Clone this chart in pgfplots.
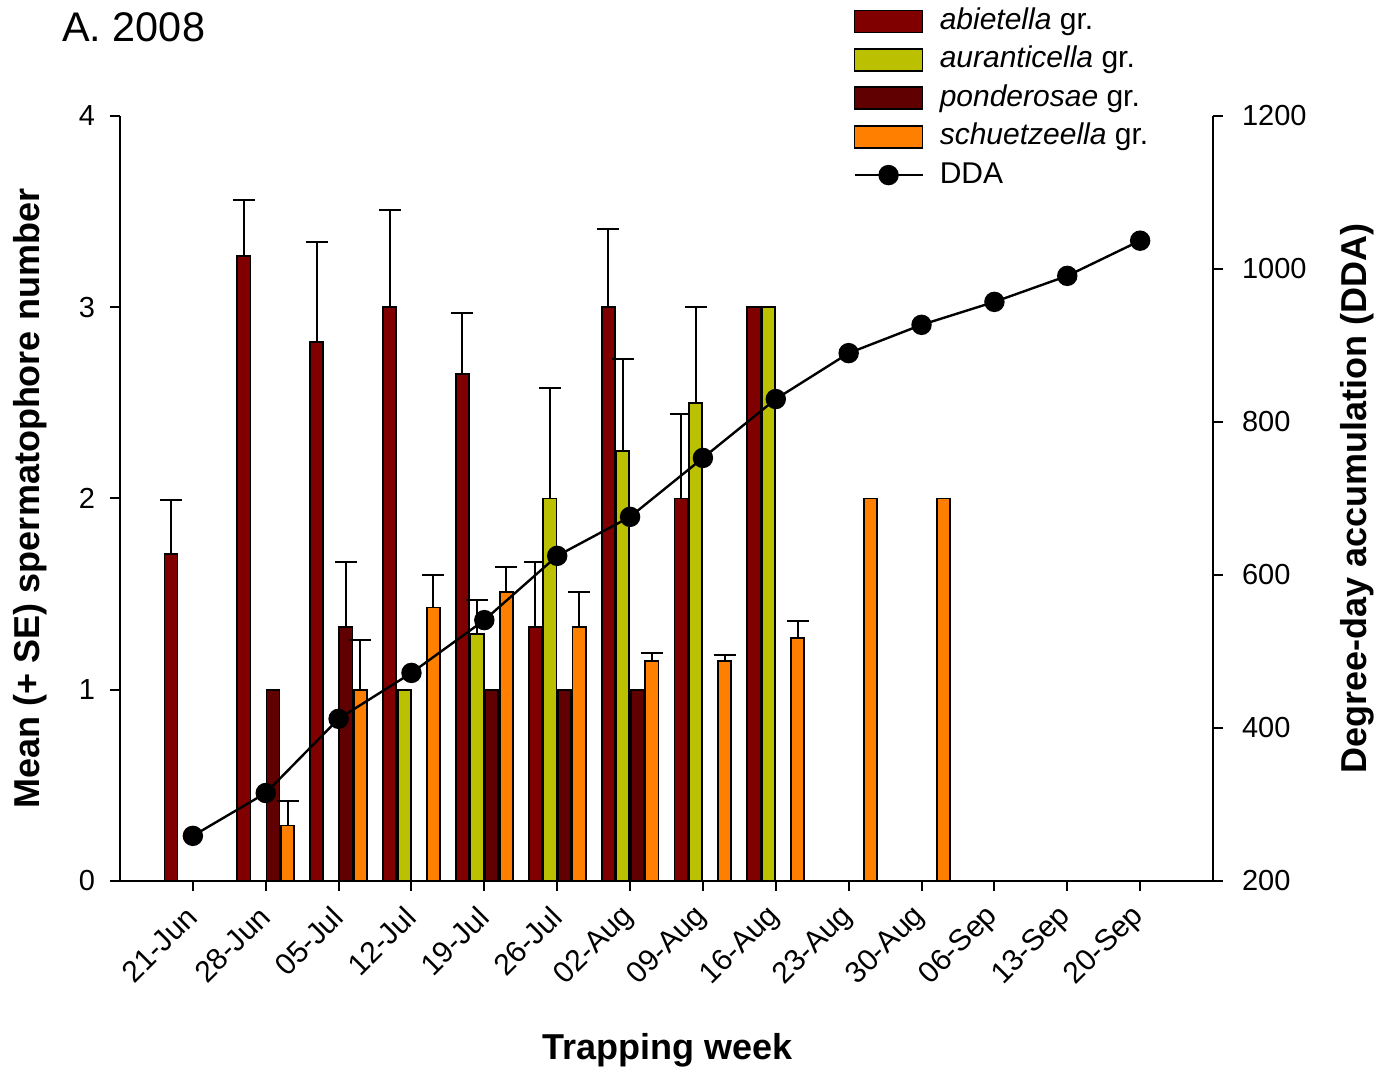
\documentclass[border=0pt]{standalone}
\usepackage{pgfplots}
\pgfplotsset{compat=1.18}
\usepackage{fontspec}
\setmainfont{Liberation Sans}

\definecolor{abiet}{RGB}{128,0,0}
\definecolor{auran}{RGB}{187,192,0}
\definecolor{ponde}{RGB}{96,0,0}
\definecolor{schue}{RGB}{255,128,0}

\pgfplotsset{
  common/.style={
    scale only axis, width=546.5pt, height=382.5pt,
    at={(0,0)}, anchor=south west,
    xmin=-1, xmax=14,
    axis line style={line width=1pt,-},
    tick align=outside, major tick length=5pt,
    every tick/.style={black, line width=1pt},
    tick label style={font=\fontsize{14.5}{17}\selectfont},
    /pgf/number format/assume math mode=true,
    /pgf/number format/1000 sep={},
  },
  % bars sit at their own x (category index +- offset), no bar shift
  bars/.style={ybar, bar width=0.18, bar shift=0pt, draw=black, line width=0.9pt, fill=#1},
  errb/.style={
    /pgfplots/error bars/y dir=plus,
    /pgfplots/error bars/y explicit,
    /pgfplots/error bars/error bar style={line width=1pt, black},
    /pgfplots/error bars/error mark options={rotate=90, black, line width=1pt, mark size=5.5pt},
  },
  barleg/.style={legend image code/.code={\draw[##1, line width=0.9pt] (0pt,-5.5pt) rectangle (34pt,5.5pt);}},
  ddaleg/.style={legend image code/.code={\draw[##1, mark repeat=2, mark phase=2] plot coordinates {(0pt,0pt) (17pt,0pt) (34pt,0pt)};}},
}

\begin{document}
\begin{tikzpicture}
\begin{axis}[common,
  ymin=0, ymax=4, ytick={0,1,2,3,4},
  axis x line*=bottom, axis y line*=left,
  yticklabel style={xshift=-4pt},
  xtick={0,...,13},
  xticklabels={21-Jun,28-Jun,05-Jul,12-Jul,19-Jul,26-Jul,02-Aug,09-Aug,16-Aug,23-Aug,30-Aug,06-Sep,13-Sep,20-Sep},
  xticklabel style={xshift=2pt, yshift=-8pt, rotate=45, anchor=east, font=\fontsize{15}{17}\selectfont},
  xlabel={Trapping week},
  ylabel={Mean (+ SE) spermatophore number},
  every axis x label/.style={at={(axis description cs:0.5005,-0.221)}, anchor=center, font=\bfseries\fontsize{18}{21}\selectfont},
  every axis y label/.style={at={(axis description cs:-0.0823,0.5)}, rotate=90, anchor=center, font=\bfseries\fontsize{18}{21}\selectfont},
  title={A. 2008},
  every axis title/.style={at={(axis description cs:-0.0531,1.1163)}, anchor=west, inner sep=0pt, font=\fontsize{20.7}{24}\selectfont},
]
% abietella gr. (offset -0.3)
\addplot[bars=abiet, errb] coordinates {
  (-0.3,1.71) +- (0,0.28)
  (0.7,3.27) +- (0,0.29)
  (1.7,2.82) +- (0,0.52)
  (2.7,3.00) +- (0,0.51)
  (3.7,2.65) +- (0,0.32)
  (4.7,1.33) +- (0,0.34)
  (5.7,3.00) +- (0,0.41)
  (6.7,2.00) +- (0,0.44)
};
\addplot[bars=abiet] coordinates {(7.7,3.00)};
% auranticella gr. (offset -0.1)
\addplot[bars=auran, errb] coordinates {
  (3.9,1.29) +- (0,0.18)
  (4.9,2.00) +- (0,0.58)
  (5.9,2.25) +- (0,0.48)
  (6.9,2.50) +- (0,0.50)
};
\addplot[bars=auran] coordinates {(2.9,1.00) (7.9,3.00)};
% ponderosae gr. (offset +0.1)
\addplot[bars=ponde, errb] coordinates {
  (2.1,1.33) +- (0,0.34)
};
\addplot[bars=ponde] coordinates {(1.1,1.00) (4.1,1.00) (5.1,1.00) (6.1,1.00)};
% schuetzeella gr. (offset +0.3)
\addplot[bars=schue, errb] coordinates {
  (1.3,0.29) +- (0,0.13)
  (2.3,1.00) +- (0,0.26)
  (3.3,1.43) +- (0,0.17)
  (4.3,1.51) +- (0,0.13)
  (5.3,1.33) +- (0,0.18)
  (6.3,1.15) +- (0,0.04)
  (7.3,1.15) +- (0,0.03)
  (8.3,1.27) +- (0,0.09)
};
\addplot[bars=schue] coordinates {(9.3,2.00) (10.3,2.00)};
\end{axis}

\begin{axis}[common,
  ymin=200, ymax=1200, ytick={200,400,...,1200},
  axis y line*=right, axis x line=none,
  yticklabel style={xshift=6pt},
  ylabel={Degree-day accumulation (DDA)},
  every axis y label/.style={at={(axis description cs:1.1317,0.5)}, rotate=90, anchor=center, font=\bfseries\fontsize{18}{21}\selectfont},
  legend style={at={(axis description cs:0.6706,1.1476)}, anchor=north west,
    draw=none, fill=none, inner sep=0pt, row sep=1.2pt, column sep=7pt,
    font=\fontsize{15}{18}\selectfont,
    nodes={inner sep=1pt, text height=12pt, text depth=4pt}},
  legend cell align=left,
]
\addlegendimage{barleg, fill=abiet, draw=black}
\addlegendimage{barleg, fill=auran, draw=black}
\addlegendimage{barleg, fill=ponde, draw=black}
\addlegendimage{barleg, fill=schue, draw=black}
\addplot[black, line width=1.2pt, mark=*, mark size=4.5pt, ddaleg] coordinates {
  (0,259) (1,315) (2,412) (3,472) (4,541) (5,625) (6,676)
  (7,753) (8,830) (9,890) (10,927) (11,957) (12,991) (13,1037)
};
\legend{\textit{abietella} gr., \textit{auranticella} gr., \textit{ponderosae} gr., \textit{schuetzeella} gr., DDA}
\end{axis}
\pgfresetboundingbox
\path[use as bounding box] (-60pt,-96.5pt) rectangle (631pt,440.5pt);
\end{tikzpicture}
\end{document}
